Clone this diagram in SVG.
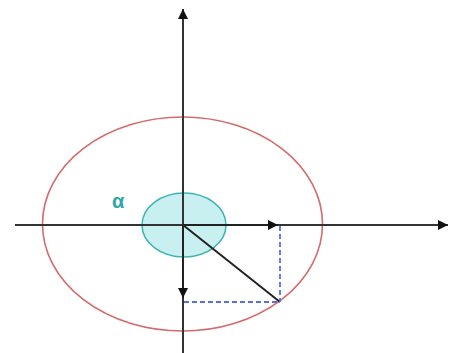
<svg xmlns="http://www.w3.org/2000/svg" width="449" height="353" viewBox="0 0 449 353">
<defs>
<style>
.axis{stroke:#333;stroke-width:2;fill:none}
.vec{stroke:#222;stroke-width:2;fill:none}
.dash{stroke:#5a6ee0;stroke-width:1.8;stroke-dasharray:5 3;fill:none}
.lbl{font-family:"Liberation Sans","DejaVu Sans",sans-serif;font-size:20px;font-weight:bold;fill:#2aa7a7}
</style>
<marker id="ahs" viewBox="0 0 10 10" refX="10" refY="5" markerWidth="16" markerHeight="10" markerUnits="userSpaceOnUse" orient="auto">
<path d="M0,0 L10,5 L0,10 z" fill="#111"/>
</marker>
</defs>
<g id="circle-red">
<ellipse cx="182.5" cy="224" rx="140" ry="107" fill="none" stroke="#d46a6a" stroke-width="1.6"/>
</g>
<g id="angle">
<ellipse cx="184" cy="225" rx="42" ry="32" fill="#c8f0f0" stroke="#3fb3b3" stroke-width="1.5"/>
<text class="lbl" x="112" y="208">α</text>
</g>
<g id="connectors">
<line class="axis" x1="183" y1="353" x2="183" y2="9" marker-end="url(#ahs)"/>
<line class="axis" x1="15" y1="225" x2="448" y2="225" marker-end="url(#ahs)"/>
<line class="vec" x1="183" y1="225" x2="278" y2="225" marker-end="url(#ahs)"/>
<line class="vec" x1="183" y1="225" x2="183" y2="298" marker-end="url(#ahs)"/>
<line class="vec" x1="183" y1="225" x2="280" y2="302"/>
<line class="dash" x1="280" y1="226" x2="280" y2="302"/>
<line class="dash" x1="184" y1="302" x2="280" y2="302"/>
</g>
</svg>
